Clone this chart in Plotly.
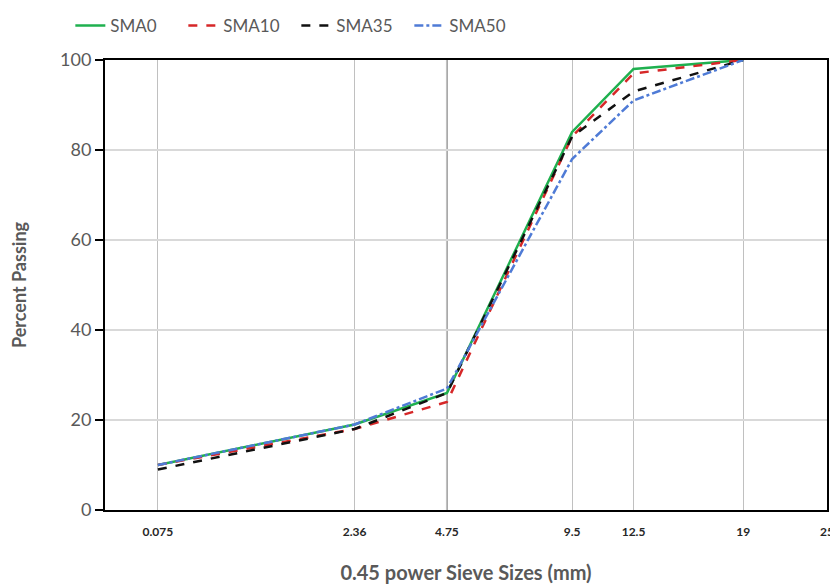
import plotly.graph_objects as go

sieve_sizes = [0.075, 2.36, 4.75, 9.5, 12.5, 19]
axis_ticks = [0.075, 2.36, 4.75, 9.5, 12.5, 19, 25]
tick_labels = ["0.075", "2.36", "4.75", "9.5", "12.5", "19", "25"]

sma0 = [10, 19, 26, 84, 98, 100]
sma10 = [10, 18, 24, 83, 97, 100]
sma35 = [9, 18, 26, 83, 93, 100]
sma50 = [10, 19, 27, 78, 91, 100]

P = 0.45
def pw(v):
    return [s ** P for s in v]

x = pw(sieve_sizes)
series = [
    ("SMA0", sma0, "#1fb04f", "solid"),
    ("SMA10", sma10, "#d62728", "dash"),
    ("SMA35", sma35, "#111111", "dash"),
    ("SMA50", sma50, "#4f7bd6", "dashdot"),
]

fig = go.Figure()
for name, vals, color, dash in series:
    fig.add_trace(go.Scatter(x=x, y=vals, mode="lines", name=name,
                             line=dict(color=color, dash=dash, width=2.5)))

# darker grid line at 4.75
fig.add_shape(type="line", xref="x", yref="y", x0=4.75 ** P, x1=4.75 ** P, y0=0, y1=100,
              line=dict(color="#a6a6a6", width=2), layer="below")

font_fam = "Lato, 'Open Sans', sans-serif"
fig.update_layout(
    width=830, height=580,
    margin=dict(l=97, r=11, t=52, b=78, autoexpand=False),
    paper_bgcolor="white", plot_bgcolor="white",
    font=dict(family=font_fam, color="#595959"),
    legend=dict(orientation="h", x=-0.048, y=1 + 52 / 450, xanchor="left", yanchor="top",
                font=dict(size=17, color="#595959"), entrywidth=68,
                tracegroupgap=0, bgcolor="rgba(0,0,0,0)"),
    xaxis=dict(
        range=[0, 25 ** P],
        tickmode="array", tickvals=pw(axis_ticks), ticktext=tick_labels,
        tickfont=dict(size=12, color="#262626", family=font_fam, weight="bold"),
        showgrid=True, gridcolor="#c0c0c0", gridwidth=1,
        showline=True, linecolor="black", linewidth=2, mirror=True,
        ticks="", ticklabelstandoff=10,
        zeroline=False,
        title=dict(text="0.45 power Sieve Sizes (mm)", standoff=28,
                   font=dict(size=20, color="#595959", family=font_fam, weight="bold")),
    ),
    yaxis=dict(
        range=[0, 100], tickvals=[0, 20, 40, 60, 80, 100],
        tickfont=dict(size=18, color="#595959", family=font_fam),
        showgrid=True, gridcolor="#d9d9d9", gridwidth=1.5,
        showline=True, linecolor="black", linewidth=2, mirror=True,
        ticks="outside", ticklen=8, tickcolor="black", tickwidth=2,
        zeroline=False,
        title=dict(text="Percent Passing", standoff=30,
                   font=dict(size=18, color="#595959", family=font_fam, weight="bold")),
    ),
)

fig.write_html("out.html")
